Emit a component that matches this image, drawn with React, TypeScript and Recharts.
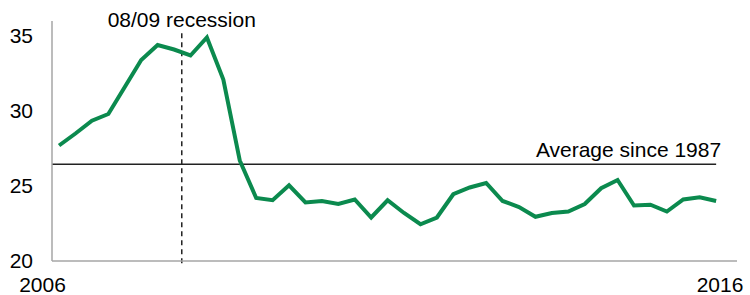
import { Label, Line, LineChart, ReferenceLine, XAxis, YAxis } from "recharts";

// quarterly values, 2006 Q1 .. 2016 Q1
const share = [
  27.7, 28.5, 29.35, 29.8, 31.6, 33.4, 34.4, 34.1, 33.7, 34.9, 32.1, 26.7,
  24.2, 24.05, 25.05, 23.9, 24.0, 23.8, 24.1, 22.9, 24.05, 23.2, 22.45, 22.9,
  24.45, 24.9, 25.2, 24.0, 23.6, 22.95, 23.2, 23.3, 23.8, 24.85, 25.4, 23.7,
  23.75, 23.3, 24.1, 24.25, 24.0
];
const averageSince1987 = 26.45;
const recessionAt = 7.47;
const yTicks = [20, 25, 30, 35];
const yearLabels = ["2006", "2016"];
const xDomain = [-0.43, 41.27];

const data = share.map((v, i) => ({ q: i, v }));

const font = "'Liberation Sans', Arial, sans-serif";

function YearTick(props: any) {
  const { x, y, payload } = props;
  const first = payload.value === xDomain[0];
  return (
    <text
      x={x + (first ? -9.5 : -12)}
      y={y + 31}
      textAnchor="middle"
      fontFamily={font}
      fontSize={21}
      fill="#000"
    >
      {first ? yearLabels[0] : yearLabels[1]}
    </text>
  );
}

function AverageLabel(props: any) {
  const vb = props.viewBox || {};
  return (
    <text
      x={vb.x + vb.width + 5}
      y={vb.y - 7.3}
      textAnchor="end"
      fontFamily={font}
      fontSize={21}
      fill="#000"
    >
      Average since 1987
    </text>
  );
}

export default function App() {
  return (
    <div style={{ position: "absolute", left: 0, top: 0, background: "#fff" }}>
      <LineChart
        width={750}
        height={295}
        data={data}
        margin={{ top: 21, right: 13, bottom: 0, left: 0 }}
      >
        <XAxis
          dataKey="q"
          type="number"
          domain={xDomain}
          allowDataOverflow
          ticks={xDomain}
          tick={<YearTick />}
          tickLine={false}
          tickSize={0}
          tickMargin={0}
          height={34}
          axisLine={{ stroke: "#a6a6a6", strokeWidth: 1.5 }}
        />
        <YAxis
          type="number"
          domain={[20, 36]}
          ticks={yTicks}
          width={52}
          tickLine={false}
          tickSize={0}
          tickMargin={19}
          axisLine={{ stroke: "#a6a6a6", strokeWidth: 1.5 }}
          tick={{ fill: "#000", fontSize: 21, fontFamily: font }}
        />
        <ReferenceLine
          segment={[
            { x: xDomain[0], y: averageSince1987 },
            { x: share.length - 1, y: averageSince1987 }
          ]}
          stroke="#222"
          strokeWidth={1.5}
          ifOverflow="visible"
          label={<AverageLabel />}
        />
        <ReferenceLine
          segment={[
            { x: recessionAt, y: 19.85 },
            { x: recessionAt, y: 35.2 }
          ]}
          stroke="#222"
          strokeWidth={1.5}
          strokeDasharray="5 4"
          ifOverflow="visible"
        >
          <Label
            value="08/09 recession"
            position="top"
            offset={6}
            fill="#000"
            fontSize={21}
            fontFamily={font}
          />
        </ReferenceLine>
        <Line
          type="linear"
          dataKey="v"
          stroke="#0b8a4e"
          strokeWidth={4}
          dot={false}
          isAnimationActive={false}
        />
      </LineChart>
    </div>
  );
}
